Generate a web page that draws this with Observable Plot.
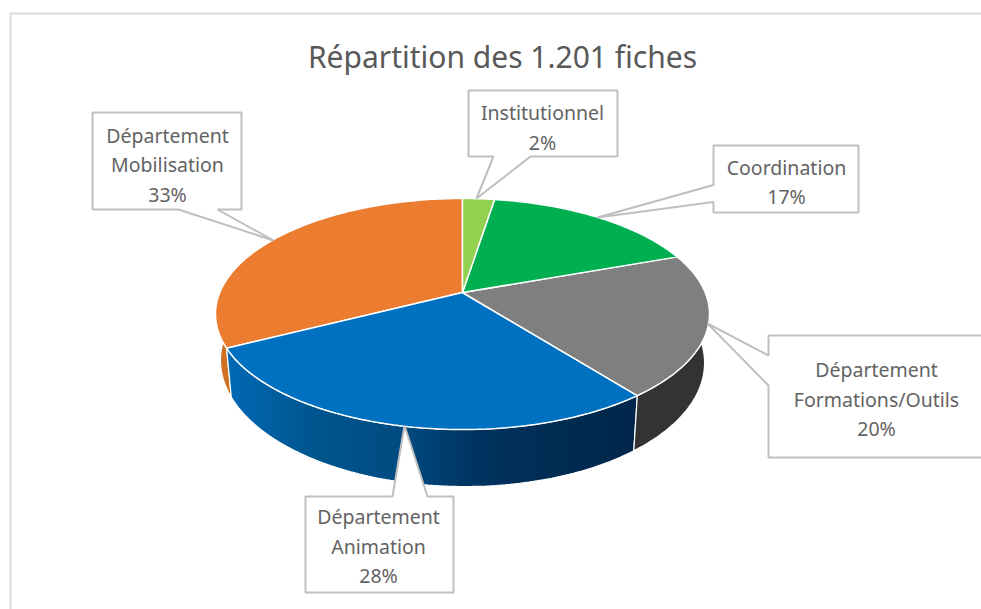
<!DOCTYPE html>
<html lang="fr">
<head>
<meta charset="utf-8">
<script src="https://cdn.jsdelivr.net/npm/d3@7"></script>
<script src="https://cdn.jsdelivr.net/npm/@observablehq/plot@0.6"></script>
<style>
  html, body { margin: 0; padding: 0; background: #fff; overflow: hidden; }
  svg { display: block; overflow: hidden; }
</style>
</head>
<body>
<script>
// --- data, clockwise from the top of the pie ---
const categories = ["Institutionnel", "Coordination", "Département\nFormations/Outils", "Département\nAnimation", "Département\nMobilisation"];
const fiches = [30, 204, 240, 336, 391];
const percents = [2, 17, 20, 28, 33];
const titleText = "Répartition des 1.201 fiches";

// --- styling ---
const topColors = ["#92D050", "#00B050", "#7F7F7F", "#0070C0", "#EB7C30"];
const sideColors = ["#7fb545", "#009544", "#333333", "url(#blueSide)", "#cf7029"];
const blueStops = [[0, "#0069b4"], [0.2, "#00568f"], [0.43, "#004a80"], [0.6, "#003360"], [0.85, "#002a50"], [1, "#00264a"]];

// --- callout layout (label centre, box, tail), same order as categories ---
const callouts = [
  {cx: 542, cy: 125, box: [468, 90, 617, 156], side: "bottom", tail: [[493, 156], [476, 198], [530, 156]]},
  {cx: 786, cy: 179.5, box: [713, 145, 858, 212], side: "left", tail: [[713, 201.5], [597, 217], [713, 184.5]]},
  {cx: 876, cy: 397, box: [768, 335, 995, 457], side: "left", tail: [[768, 385], [707, 323], [768, 355]]},
  {cx: 378, cy: 544, box: [305, 496, 453, 592], side: "top", tail: [[392, 496], [404, 425], [427, 496]]},
  {cx: 167, cy: 162.5, box: [92, 112, 241, 209], side: "bottom", tail: [[178, 209], [273, 240], [217, 209]]}
];

// --- pie geometry: a tilted disc seen in perspective ---
const cx = 462, cy = 292, R = 242.7, A = 111.5, K = 0.186;
function topPoint(theta) {
  const u = Math.sin(theta), v = -Math.cos(theta), w = 1 - K * v;
  return {X: R * u / w, Y: A * v / w};
}
const toTop = ({X, Y}) => ({x: cx + X, y: cy + Y});
const toBase = ({X, Y}) => ({x: cx + 0.98 * X, y: cy + 45.7 + 1.0827 * Y + 0.00555 * X});

const total = d3.sum(fiches);
const ends = Array.from(d3.cumsum(fiches), (c) => (c / total) * 2 * Math.PI);
const starts = [0, ...ends.slice(0, -1)];
function arc(i) {
  const n = Math.max(8, Math.ceil((ends[i] - starts[i]) * 60));
  return d3.range(n + 1).map((j) => topPoint(starts[i] + (ends[i] - starts[i]) * j / n));
}
const slices = fiches.map((_, i) => [{x: cx, y: cy}, ...arc(i).map(toTop)]);
const sides = fiches.map((_, i) => [...arc(i).map(toTop), ...arc(i).reverse().map(toBase)]);

function calloutShape({box: [x0, y0, x1, y1], side, tail}) {
  const t = tail.map(([x, y]) => ({x, y}));
  const bottomRev = side === "bottom" ? t : [];
  const pts = [{x: x0, y: y0}];
  if (side === "top") pts.splice(1, 0, ...[...t].reverse().reverse());
  pts.push({x: x1, y: y0}, {x: x1, y: y1});
  if (side === "bottom") pts.push(...[...bottomRev].reverse());
  pts.push({x: x0, y: y1});
  if (side === "left") pts.push(...t);
  return pts;
}

const gradient = () => {
  const defs = d3.create("svg:defs");
  const g = defs.append("linearGradient").attr("id", "blueSide")
    .attr("gradientUnits", "userSpaceOnUse")
    .attr("x1", 228).attr("x2", 638).attr("y1", 0).attr("y2", 0);
  blueStops.forEach(([o, c]) => g.append("stop").attr("offset", o).attr("stop-color", c));
  return defs.node();
};

const poly = (pts, fill, stroke, strokeWidth) =>
  Plot.line(pts, {x: "x", y: "y", curve: "linear-closed", fill, stroke, strokeWidth, strokeLinejoin: "miter"});

const textFont = "'Noto Sans', 'Open Sans', sans-serif";
const labelRows = categories.map((c, i) => ({
  text: `${c}\n${percents[i]}%`, x: callouts[i].cx, y: callouts[i].cy
}));

const drawOrder = [4, 3, 2, 1, 0];
const chart = Plot.plot({
  width: 981,
  height: 609,
  margin: 0,
  style: {background: "#fff"},
  x: {domain: [0, 981], range: [0, 981], axis: null},
  y: {domain: [0, 609], range: [0, 609], axis: null},
  marks: [
    gradient,
    Plot.ruleY([13], {x1: 10, x2: 981, stroke: "#d9d9d9", strokeWidth: 2}),
    Plot.ruleX([10], {y1: 13, y2: 609, stroke: "#d9d9d9", strokeWidth: 2}),
    Plot.text([titleText], {x: 502, y: 58, fontSize: 30, fontFamily: textFont, fill: "#595959", textAnchor: "middle", lineAnchor: "middle"}),
    ...drawOrder.map((i) => poly(sides[i], sideColors[i], "#fff", 1.2)),
    ...drawOrder.map((i) => poly(slices[i], topColors[i], "#fff", 1.5)),
    ...callouts.map((c) => poly(calloutShape(c), "#fff", "#bfbfbf", 2)),
    Plot.text(labelRows, {x: "x", y: "y", text: "text", fontSize: 19.5, lineHeight: 1.51, fontFamily: textFont, fill: "#636363", textAnchor: "middle", lineAnchor: "middle"})
  ]
});
document.body.append(chart);
</script>
</body>
</html>
